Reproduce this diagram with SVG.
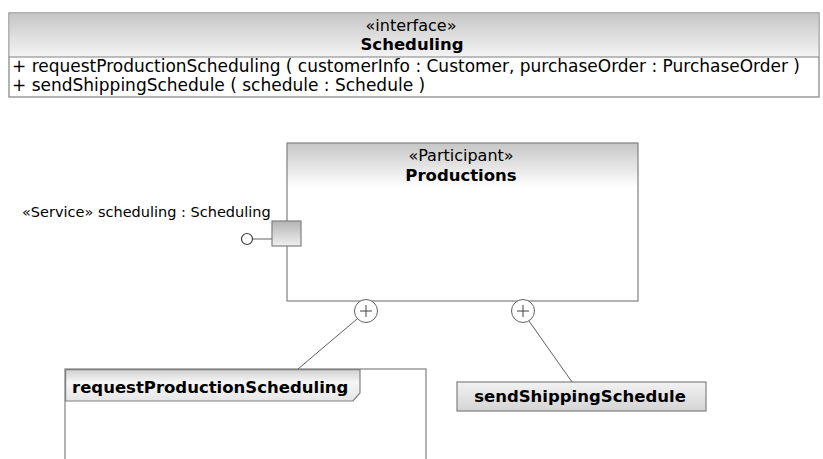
<svg xmlns="http://www.w3.org/2000/svg" width="823" height="459" viewBox="0 0 823 459">
<defs>
<linearGradient id="hdr" x1="0" y1="0" x2="0" y2="1">
<stop offset="0" stop-color="#c6c6c6"/>
<stop offset="1" stop-color="#f4f4f4"/>
</linearGradient>
<linearGradient id="part" x1="0" y1="0" x2="0" y2="1">
<stop offset="0" stop-color="#c6c6c6"/>
<stop offset="0.28" stop-color="#ffffff"/>
<stop offset="1" stop-color="#ffffff"/>
</linearGradient>
<linearGradient id="port" x1="0" y1="0" x2="0" y2="1">
<stop offset="0" stop-color="#b4b4b4"/>
<stop offset="1" stop-color="#f0f0f0"/>
</linearGradient>
<linearGradient id="tab" x1="0" y1="0" x2="0" y2="1">
<stop offset="0" stop-color="#d0d0d0"/>
<stop offset="0.4" stop-color="#f6f6f6"/>
<stop offset="1" stop-color="#e6e6e6"/>
</linearGradient>
<linearGradient id="act" x1="0" y1="0" x2="0" y2="1">
<stop offset="0" stop-color="#f2f2f2"/>
<stop offset="1" stop-color="#d4d4d4"/>
</linearGradient>
</defs>
<style>
text{font-family:"DejaVu Sans","Liberation Sans",sans-serif;fill:#000}
.t{font-size:16px}
.op{font-size:17px}
.lbl{font-size:14.5px}
.b{font-size:16.5px;font-weight:bold}
.box{stroke:#808080;stroke-width:1.2}
.ln{stroke:#606060;stroke-width:1;fill:none}
</style>
<rect width="823" height="459" fill="#ffffff"/>

<g id="scheduling-interface">
<rect class="box" x="9" y="13" width="810" height="84" fill="#ffffff"/>
<rect x="9.6" y="13.6" width="808.8" height="43.4" fill="url(#hdr)"/>
<line class="box" x1="9" y1="57" x2="819" y2="57"/>
<text class="t" x="411" y="31" text-anchor="middle">«interface»</text>
<text class="b" x="412" y="50" text-anchor="middle">Scheduling</text>
<text class="op" x="12" y="72" textLength="788" lengthAdjust="spacingAndGlyphs">+ requestProductionScheduling ( customerInfo : Customer, purchaseOrder : PurchaseOrder )</text>
<text class="op" x="12" y="91">+ sendShippingSchedule ( schedule : Schedule )</text>
</g>

<g id="productions">
<rect class="box" x="287" y="143" width="351" height="158" fill="url(#part)"/>
<text class="t" x="461" y="161" text-anchor="middle">«Participant»</text>
<text class="b" x="461" y="181" text-anchor="middle">Productions</text>
</g>

<g id="scheduling-port">
<text class="lbl" x="22" y="217">«Service» scheduling : Scheduling</text>
<line class="ln" x1="253" y1="239" x2="272" y2="239"/>
<circle cx="247" cy="239" r="5.5" fill="#ffffff" stroke="#404040" stroke-width="1.2"/>
<rect class="box" x="272" y="221" width="29" height="25" fill="url(#port)"/>
</g>

<g id="requestProductionScheduling">
<rect class="box" x="65" y="369" width="361" height="100" fill="#ffffff"/>
<path class="box" d="M65.6,369.6 H360 V393 L353,401 H65.6 Z" fill="url(#tab)"/>
<text class="b" x="72" y="393">requestProductionScheduling</text>
</g>

<g id="sendShippingSchedule">
<rect class="box" x="457" y="382" width="249" height="29" fill="url(#act)"/>
<text class="b" x="580" y="402" text-anchor="middle">sendShippingSchedule</text>
</g>

<g id="connectors">
<line class="ln" x1="357" y1="319" x2="298" y2="369"/>
<line class="ln" x1="529" y1="321" x2="572" y2="382"/>
<g fill="#ffffff" stroke="#606060" stroke-width="1">
<circle cx="366" cy="311" r="11.5"/>
<circle cx="523" cy="311" r="11.5"/>
</g>
<g stroke="#404040" stroke-width="1">
<line x1="360" y1="311" x2="372" y2="311"/>
<line x1="366" y1="305" x2="366" y2="317"/>
<line x1="517" y1="311" x2="529" y2="311"/>
<line x1="523" y1="305" x2="523" y2="317"/>
</g>
</g>
</svg>
